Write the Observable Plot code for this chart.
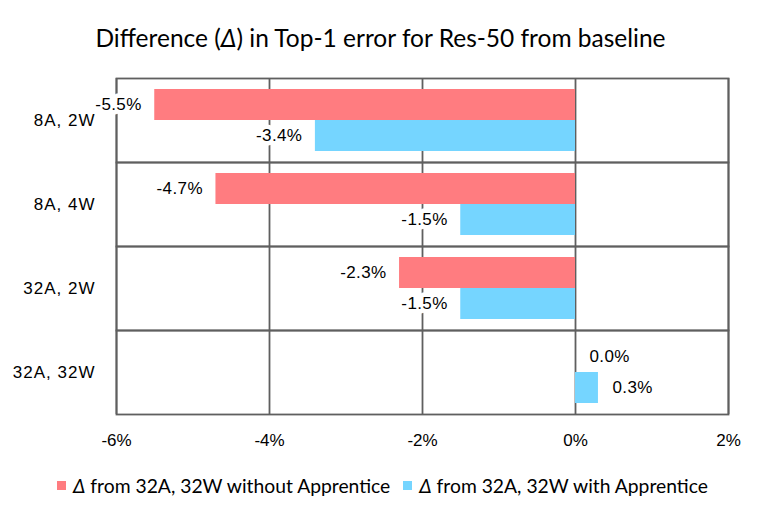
<!DOCTYPE html>
<html>
<head>
<meta charset="utf-8">
<script src="https://cdn.jsdelivr.net/npm/d3@7"></script>
<script src="https://cdn.jsdelivr.net/npm/@observablehq/plot@0.6"></script>
<style>
  body { margin: 0; background: #fff; width: 761px; }
  #title { box-sizing: border-box; height: 66px; padding-top: 25px; text-align: center;
           font-family: Lato, sans-serif; font-size: 24.5px; line-height: 26px; color: #000; }
  #legend { display: flex; justify-content: center; align-items: center; gap: 13px;
            font-family: Lato, sans-serif; font-size: 19.3px; color: #000; margin-top: 18px; padding-left: 4px; }
  .item { display: flex; align-items: center; gap: 7px; }
  .sw { width: 9px; height: 9px; display: inline-block; }
</style>
</head>
<body>
<div id="title">Difference (<i>Δ</i>) in Top-1 error for Res-50 from baseline</div>
<div id="chart"></div>
<div id="legend"></div>
<script>
const categories = ["8A, 2W", "8A, 4W", "32A, 2W", "32A, 32W"];
const withoutApprentice = [-5.5, -4.7, -2.3, 0.0];
const withApprentice = [-3.4, -1.5, -1.5, 0.3];
const seriesNames = ["Δ from 32A, 32W without Apprentice", "Δ from 32A, 32W with Apprentice"];
const seriesKeys = ["without", "with"];
const colors = ["#FF7C80", "#75D5FF"];
const xTicks = [-6, -4, -2, 0, 2];
const xTickLabels = ["-6%", "-4%", "-2%", "0%", "2%"];

const data = [];
categories.forEach((c, i) => {
  data.push({cat: c, series: "without", value: withoutApprentice[i]});
  data.push({cat: c, series: "with", value: withApprentice[i]});
});
const tickData = xTicks.map((v, i) => ({v, label: xTickLabels[i], cat: categories[categories.length - 1]}));

const fmt = v => v.toFixed(1) + "%";

const plot = Plot.plot({
  width: 761,
  height: 390,
  marginLeft: 116,
  marginRight: 33,
  marginTop: 10,
  marginBottom: 41,
  style: {fontFamily: "'Liberation Sans', Arial, sans-serif", fontSize: "16px", color: "#000", overflow: "visible"},
  x: {domain: [-6, 2], label: null, axis: null},
  y: {domain: seriesKeys, axis: null, paddingInner: 0, paddingOuter: 0.33},
  fy: {domain: categories, padding: 0, label: null, axis: null},
  color: {domain: seriesKeys, range: colors},
  marks: [
    Plot.ruleX(xTicks, {stroke: "#5f5f5f", strokeWidth: 1.8, strokeOpacity: 1}),
    Plot.barX(data, {fy: "cat", y: "series", x1: 0, x2: "value", fill: "series", inset: 0}),
    Plot.frame({stroke: "#5f5f5f", strokeWidth: 1.8}),
    Plot.text(data.filter(d => d.value < 0), {
      fy: "cat", y: "series", x: "value", text: d => fmt(d.value),
      textAnchor: "end", dx: -13,
      fontSize: 17, fill: "#000", stroke: "white", strokeWidth: 9
    }),
    Plot.text(data.filter(d => d.value >= 0), {
      fy: "cat", y: "series", x: "value", text: d => fmt(d.value),
      textAnchor: "start", dx: 14,
      fontSize: 17, fill: "#000", stroke: "white", strokeWidth: 9
    }),
    Plot.text(tickData, {x: "v", fy: "cat", text: "label", frameAnchor: "bottom", dy: 31,
                         fontSize: 17, fill: "#000"}),
    Plot.axisFy({anchor: "left", tickSize: 0, tickPadding: 21, label: null})
  ]
});
document.getElementById("chart").append(plot);
plot.querySelectorAll("text").forEach(t => {
  const s = t.textContent;
  if (categories.includes(s)) { t.style.fontSize = "17px"; t.style.letterSpacing = "1px"; }
  else if (/\.\d%$/.test(s)) { t.style.letterSpacing = "0.4px"; }
});

const legend = document.getElementById("legend");
seriesNames.forEach((name, i) => {
  const item = document.createElement("span");
  item.className = "item";
  const sw = document.createElement("span");
  sw.className = "sw";
  sw.style.background = colors[i];
  const t = document.createElement("span");
  t.innerHTML = name.replace("Δ", "<i>Δ</i>");
  item.append(sw, t);
  legend.append(item);
});
</script>
</body>
</html>
